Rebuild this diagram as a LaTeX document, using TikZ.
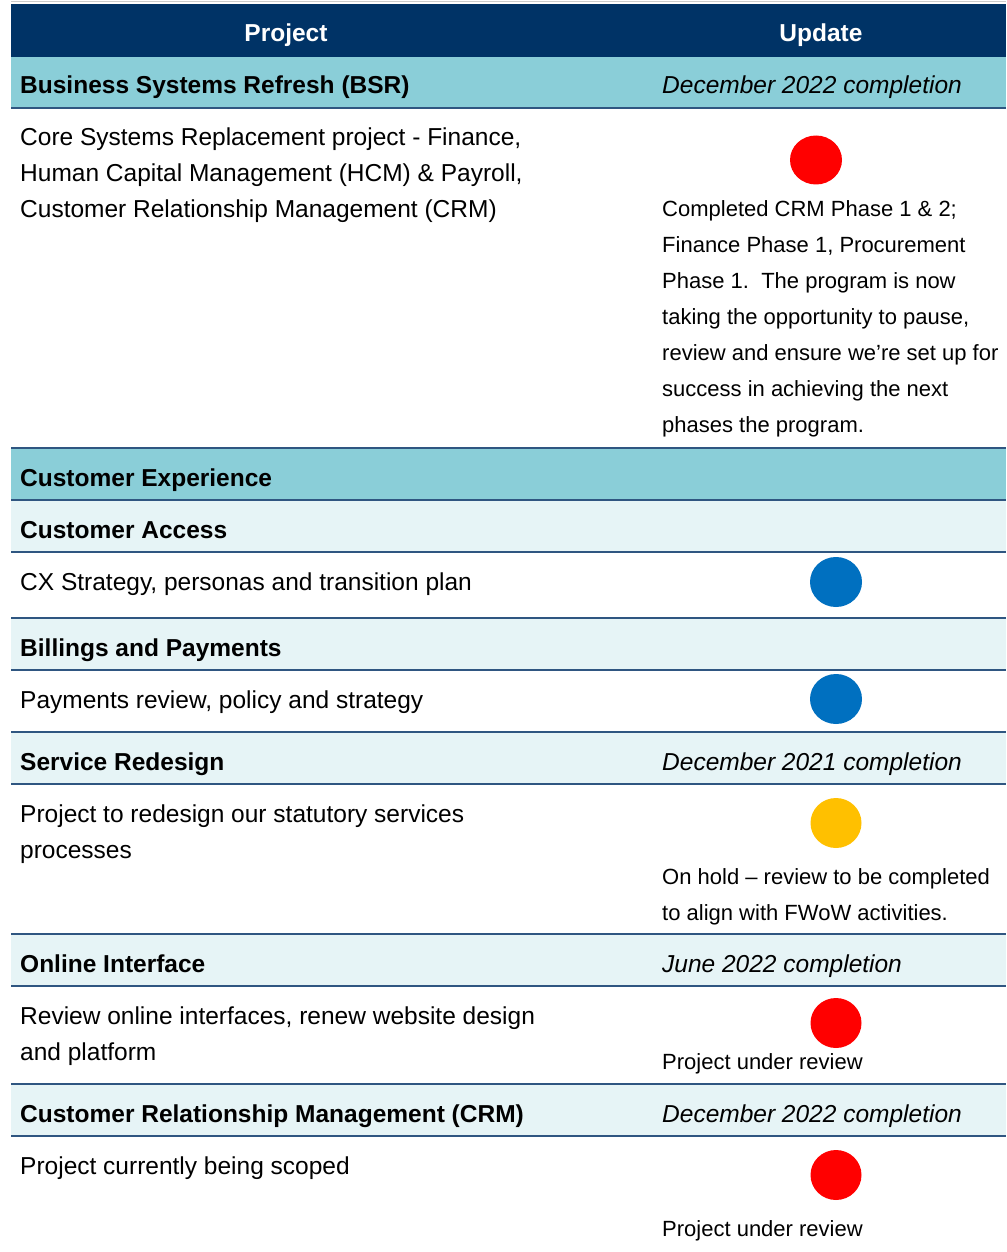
\documentclass[tikz,border=0pt]{standalone}
\usepackage{fontspec}
\setmainfont{Liberation Sans}
\usetikzlibrary{shapes.geometric}
\definecolor{navy}{HTML}{003366}
\definecolor{teal}{HTML}{8ACED8}
\definecolor{pale}{HTML}{E6F4F6}
\definecolor{rule}{HTML}{2F5681}
\definecolor{ragred}{HTML}{FF0000}
\definecolor{ragblue}{HTML}{0070C0}
\definecolor{ragamber}{HTML}{FFC000}
\begin{document}
\begin{tikzpicture}[x=1pt,y=-1pt,
  sep/.style={draw=rule,line width=1.5pt},
  head/.style={inner sep=0pt,anchor=base,text=white,font=\fontsize{24.5}{36}\selectfont\bfseries},
  sect/.style={inner sep=0pt,anchor=base west,font=\fontsize{24.5}{36}\selectfont\bfseries},
  due/.style={inner sep=0pt,anchor=base west,font=\fontsize{24.5}{36}\selectfont\itshape},
  body/.style={inner sep=0pt,anchor=base west,align=left,font=\fontsize{24.5}{36}\selectfont},
  note/.style={inner sep=0pt,anchor=base west,align=left,font=\fontsize{22}{36}\selectfont},
  rag/.style={ellipse,inner sep=0pt,draw=none}]
\useasboundingbox (0,0) rectangle (1006,1252);
\fill[white] (0,0) rectangle (1006,1252);
% bands
\draw[draw=black!20,line width=1pt] (11,2) -- (1006,2);
\fill[navy] (11,4) rectangle (1006,57);
\fill[teal] (11,57) rectangle (1006,108);
\fill[teal] (11,448) rectangle (1006,500);
\fill[pale] (11,500) rectangle (1006,552);
\fill[pale] (11,618) rectangle (1006,670);
\fill[pale] (11,732) rectangle (1006,784);
\fill[pale] (11,934) rectangle (1006,986);
\fill[pale] (11,1084) rectangle (1006,1136);
% rules
\foreach \yy in {108,448,500,552,618,670,732,784,934,986,1084,1136}
  \draw[sep] (11,\yy) -- (1006,\yy);
% header
\node[head] (hproj) at (286,41.5) {Project};
\node[head] (hupd) at (821,41.5) {Update};
% BSR (multi-line nodes are anchored at the baseline of their last line)
\node[sect] (bsr) at (20,94) {Business Systems Refresh (BSR)};
\node[due] (bsrdue) at (662,94) {December 2022 completion};
\node[body] (bsrtxt) at (20,217.5) {Core Systems Replacement project - Finance,\\Human Capital Management (HCM) \& Payroll,\\Customer Relationship Management (CRM)};
\node[rag,fill=ragred,minimum width=52pt,minimum height=49pt] (c1) at (816,160) {};
\node[note] (bsrnote) at (662,432.5) {Completed CRM Phase 1 \& 2;\\Finance Phase 1, Procurement\\Phase 1.\ \ The program is now\\taking the opportunity to pause,\\review and ensure we’re set up for\\success in achieving the next\\phases the program.};
% Customer experience
\node[sect] (cx) at (20,486) {Customer Experience};
\node[sect] (ca) at (20,538) {Customer Access};
\node[body] (cxtxt) at (20,590) {CX Strategy, personas and transition plan};
\node[rag,fill=ragblue,minimum width=52pt,minimum height=50pt] (c2) at (836,582) {};
\node[sect] (bp) at (20,656) {Billings and Payments};
\node[body] (bptxt) at (20,708) {Payments review, policy and strategy};
\node[rag,fill=ragblue,minimum width=52pt,minimum height=50pt] (c3) at (836,699) {};
\node[sect] (sr) at (20,770) {Service Redesign};
\node[due] (srdue) at (662,770) {December 2021 completion};
\node[body] (srtxt) at (20,858) {Project to redesign our statutory services\\processes};
\node[rag,fill=ragamber,minimum width=51pt,minimum height=50pt] (c4) at (836,823) {};
\node[note] (srnote) at (662,920.5) {On hold – review to be completed\\to align with FWoW activities.};
\node[sect] (oi) at (20,972) {Online Interface};
\node[due] (oidue) at (662,972) {June 2022 completion};
\node[body] (oitxt) at (20,1060) {Review online interfaces, renew website design\\and platform};
\node[rag,fill=ragred,minimum width=51pt,minimum height=50pt] (c5) at (836,1023) {};
\node[note] (oinote) at (662,1069.5) {Project under review};
\node[sect] (crm) at (20,1122) {Customer Relationship Management (CRM)};
\node[due] (crmdue) at (662,1122) {December 2022 completion};
\node[body] (crmtxt) at (20,1174) {Project currently being scoped};
\node[rag,fill=ragred,minimum width=51pt,minimum height=50pt] (c6) at (836,1175) {};
\node[note] (crmnote) at (662,1236.5) {Project under review};
\end{tikzpicture}
\end{document}
